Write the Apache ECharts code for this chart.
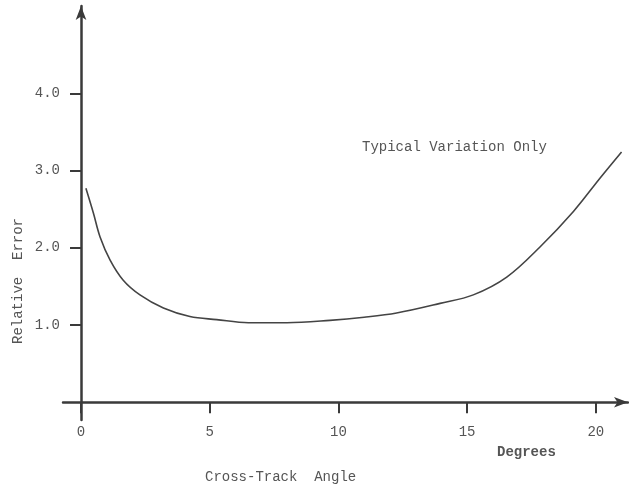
<!DOCTYPE html>
<html>
<head>
<meta charset="utf-8">
<script src="https://cdn.jsdelivr.net/npm/echarts@6/dist/echarts.min.js"></script>
<style>
  html, body { margin: 0; padding: 0; background: #fff; }
  #chart { width: 629px; height: 488px; }
</style>
</head>
<body>
<div id="chart"></div>
<script>
// Cross-track angle (degrees) and relative error along the curve
var angles = [0.19, 0.48, 0.74, 1.13, 1.64, 2.29, 3.2, 4.23, 5.27, 6.5, 8.0, 9.67, 11.0, 12.26, 13.95, 15.24, 16.54, 17.83, 19.13, 20.16, 21.0];
var relErrors = [2.77, 2.45, 2.14, 1.84, 1.58, 1.39, 1.22, 1.11, 1.07, 1.03, 1.03, 1.06, 1.10, 1.155, 1.28, 1.39, 1.62, 2.01, 2.47, 2.90, 3.24];
var xTicks = [0, 5, 10, 15, 20];
var yTicks = [1, 2, 3, 4];

var mono = '"Liberation Mono", "DejaVu Sans Mono", monospace';
var ink = '#3a3a3a';
var textInk = '#555';

var chart = echarts.init(document.getElementById('chart'));
chart.setOption({
  animation: false,
  backgroundColor: '#fff',
  grid: { left: 63, right: 1, top: 6, bottom: 68 },
  xAxis: {
    type: 'value',
    min: -0.7,
    max: 21.25,
    axisLine: { onZero: true, lineStyle: { color: ink, width: 2.5 }, symbol: ['none', 'arrow'], symbolSize: [8, 14] },
    axisTick: { show: true, customValues: xTicks, length: 11, lineStyle: { color: ink, width: 2 } },
    axisLabel: { customValues: xTicks, margin: 5, fontFamily: mono, fontSize: 14, color: textInk },
    splitLine: { show: false }
  },
  yAxis: {
    type: 'value',
    min: -0.23,
    max: 5.13,
    axisLine: { show: true, onZero: true, lineStyle: { color: ink, width: 2.5 }, symbol: ['none', 'arrow'], symbolSize: [8, 14] },
    axisTick: { show: true, customValues: yTicks, length: 11, lineStyle: { color: ink, width: 2 } },
    axisLabel: { customValues: yTicks, margin: 3, fontFamily: mono, fontSize: 14, color: textInk,
      formatter: function (v) { return v.toFixed(1); } },
    splitLine: { show: false }
  },
  series: [{
    type: 'line',
    data: angles.map(function (a, i) { return [a, relErrors[i]]; }),
    smooth: 0.35,
    showSymbol: false,
    lineStyle: { color: '#444', width: 1.6 }
  }],
  graphic: [
    { type: 'text', left: 362, top: 140, style: { text: 'Typical Variation Only', font: '14px ' + mono, fill: textInk } },
    { type: 'text', left: 497, top: 445, style: { text: 'Degrees', font: 'bold 14px ' + mono, fill: textInk } },
    { type: 'text', left: 205, top: 470, style: { text: 'Cross-Track  Angle', font: '14px ' + mono, fill: textInk } },
    { type: 'text', x: 18, y: 281, rotation: Math.PI / 2,
      style: { text: 'Relative  Error', font: '14px ' + mono, fill: textInk, align: 'center', verticalAlign: 'middle' } }
  ]
});
</script>
</body>
</html>
